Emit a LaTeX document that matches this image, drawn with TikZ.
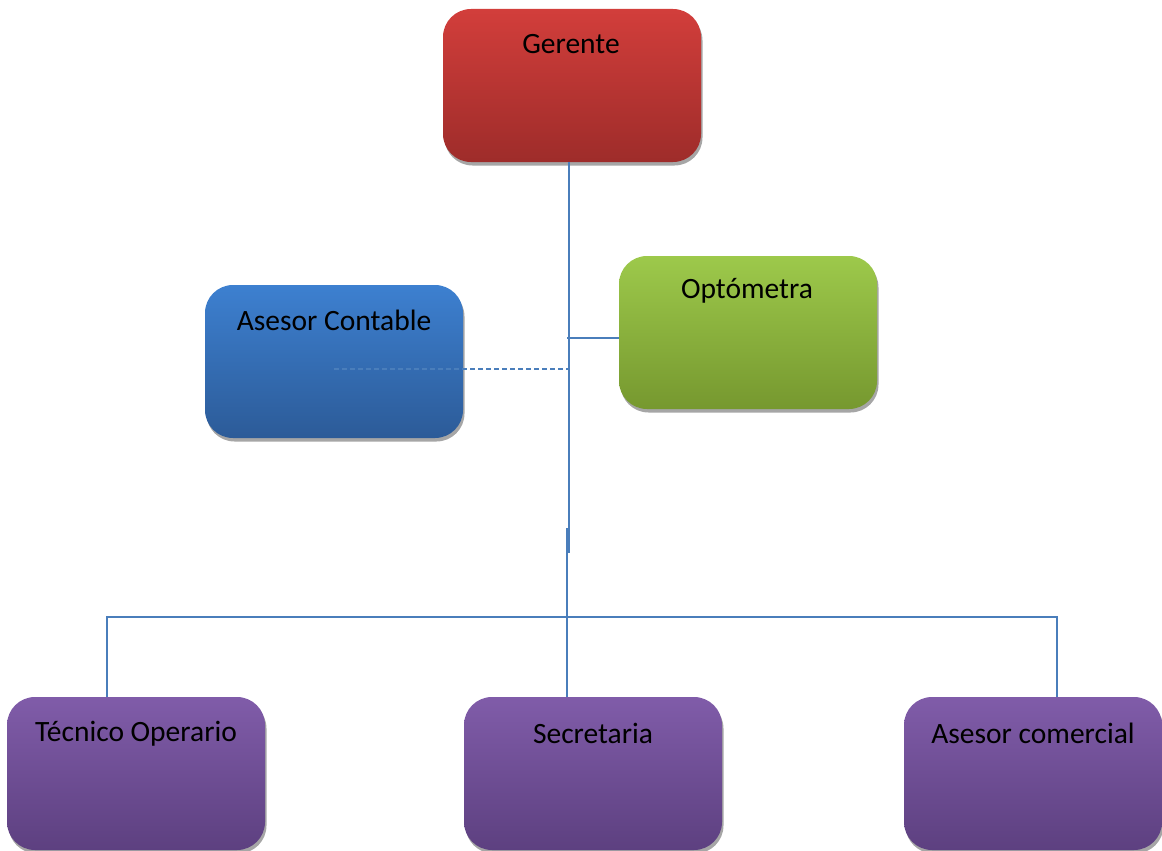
\documentclass[tikz,border=0pt]{standalone}
\usepackage{fontspec}
\setmainfont{Carlito}
\usetikzlibrary{shadows,calc}
\definecolor{lineblue}{HTML}{4A7EBB}
\definecolor{redtop}{HTML}{D23E3B}
\definecolor{redbot}{HTML}{9E2C2A}
\definecolor{bluetop}{HTML}{3D80D0}
\definecolor{bluebot}{HTML}{2C5B98}
\definecolor{greentop}{HTML}{9DC94B}
\definecolor{greenbot}{HTML}{76982F}
\definecolor{purptop}{HTML}{805CA9}
\definecolor{purpbot}{HTML}{5D4080}
\tikzset{
  box/.style={rectangle, rounded corners=28pt, minimum width=258pt, minimum height=153pt,
    inner sep=0pt, draw=none,
    drop shadow={shadow xshift=1.5pt, shadow yshift=-3.5pt, fill=black!35, opacity=1}},
  redbox/.style={box, top color=redtop, bottom color=redbot},
  bluebox/.style={box, top color=bluetop, bottom color=bluebot},
  greenbox/.style={box, top color=greentop, bottom color=greenbot},
  purpbox/.style={box, top color=purptop, bottom color=purpbot},
  lbl/.style={font=\fontsize{29.5}{35}\selectfont, text=black, inner sep=0pt},
  conn/.style={draw=lineblue, line width=1.5pt},
  dconn/.style={conn, dash pattern=on 5pt off 3pt}
}
\begin{document}
\begin{tikzpicture}[x=1pt,y=-1pt]
\useasboundingbox (0,0) rectangle (1162,851);
% boxes
\node[redbox] (ger) at (572,85.5) {};
\node[bluebox] (cont) at (334,361.5) {};
\node[greenbox] (opt) at (748,332.5) {};
\node[purpbox] (tec) at (136,773.5) {};
\node[purpbox] (sec) at (593,773.5) {};
\node[purpbox] (com) at (1033,773.5) {};
% labels
\node[lbl] (tger) at (571,44) {Gerente};
\node[lbl] (tcont) at (334,320) {Asesor Contable};
\node[lbl] (topt) at (747,291) {Optómetra};
\node[lbl] (ttec) at (136,734) {Técnico Operario};
\node[lbl] (tsec) at (593,733) {Secretaria};
\node[lbl] (tcom) at (1033,733) {Asesor comercial};
% connector points
\coordinate (j1) at (569,553);
\coordinate (j2) at (567,528);
\coordinate (o1) at (567,338);
\coordinate (d1) at (570,369);
\coordinate (bl) at (107,617);
\coordinate (br) at (1057,617);
% connectors
\draw[conn] (ger.south -| j1) -- (j1);
\draw[conn] (j2) -- (j2 |- sec.north);
\draw[conn] (o1) -- (o1 -| opt.west);
\draw[dconn] (d1 -| cont.center) -- (d1);
\draw[conn] (bl |- tec.north) -- (bl) -- (br) -- (br |- com.north);
\end{tikzpicture}
\end{document}
